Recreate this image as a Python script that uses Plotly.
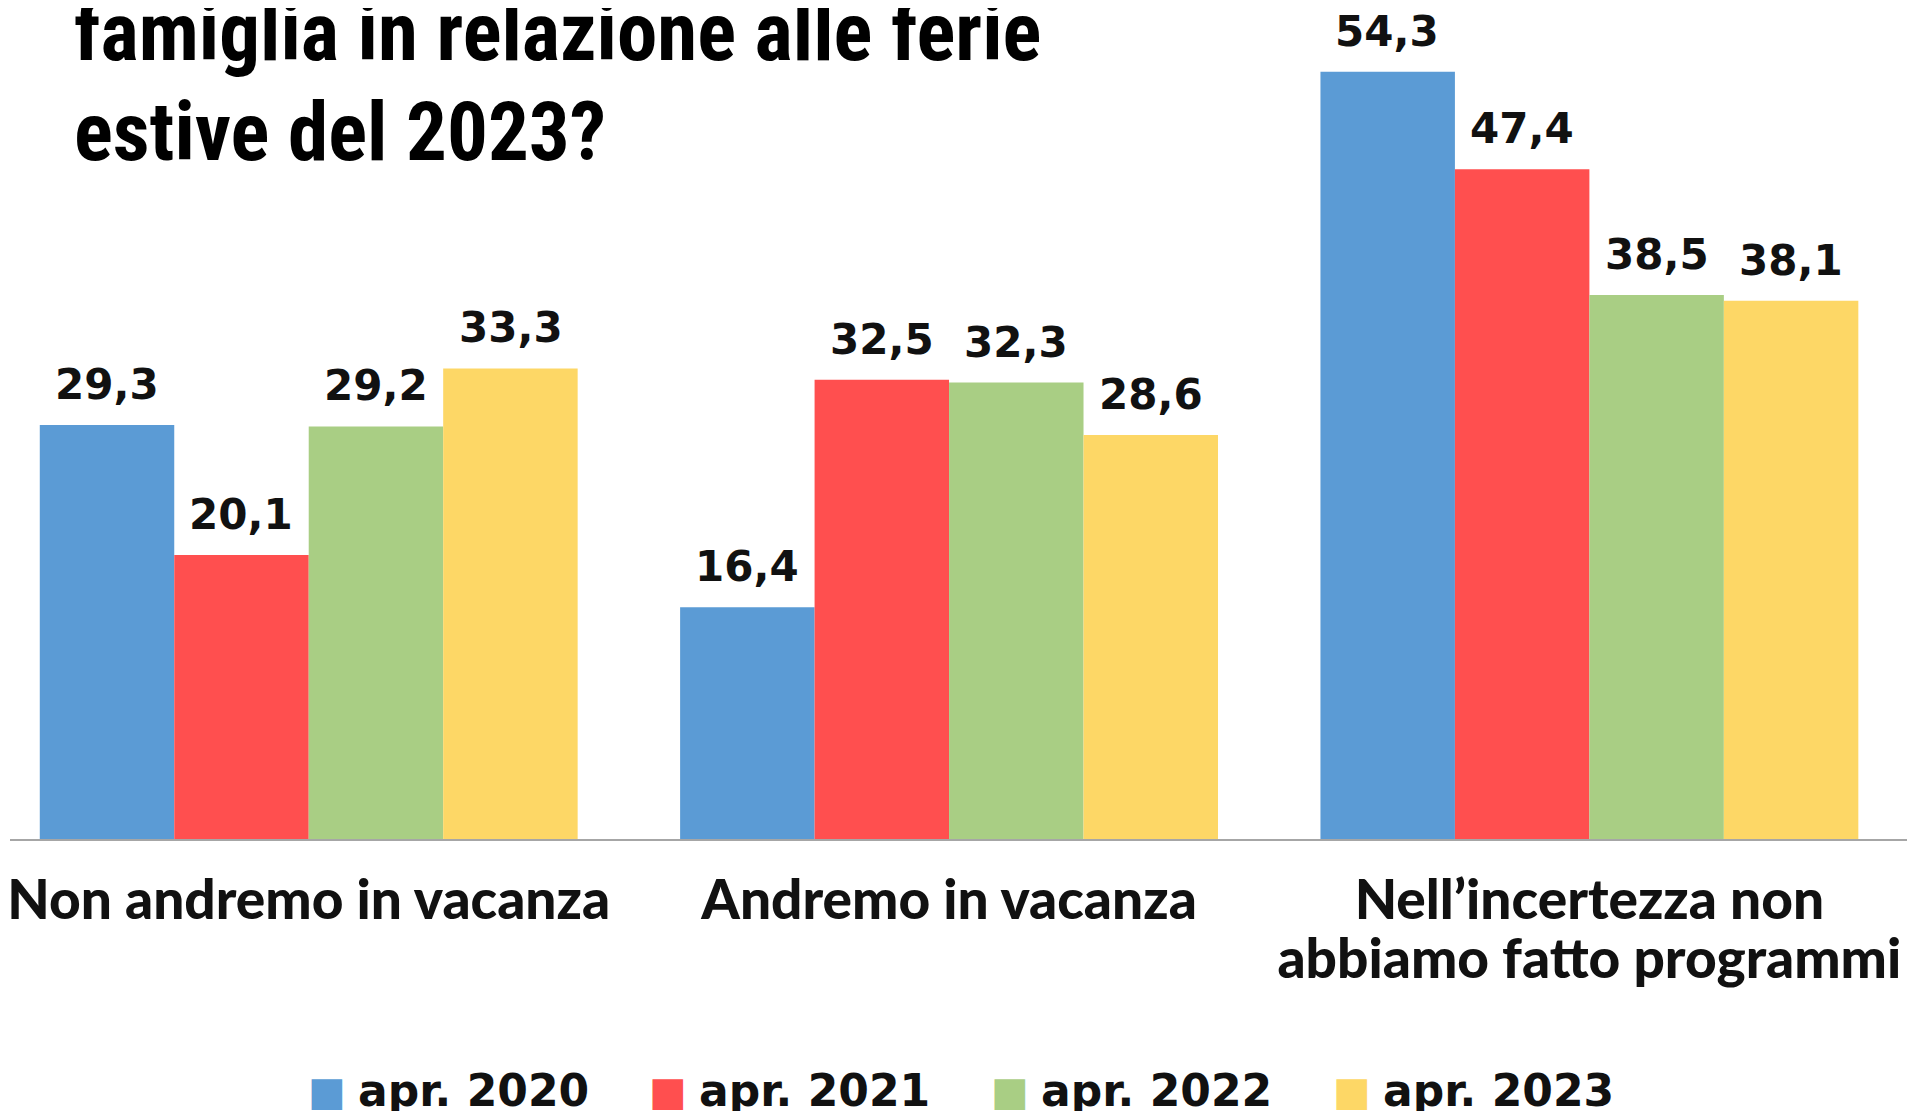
import plotly.graph_objects as go

categories = ["Non andremo in vacanza", "Andremo in vacanza",
              "Nell\u2019incertezza non<br>abbiamo fatto programmi"]
series_names = ["apr. 2020", "apr. 2021", "apr. 2022", "apr. 2023"]
values_2020 = [29.3, 16.4, 54.3]
values_2021 = [20.1, 32.5, 47.4]
values_2022 = [29.2, 32.3, 38.5]
values_2023 = [33.3, 28.6, 38.1]
colors = ["#5B9BD5", "#FF4F4F", "#A9CE84", "#FDD766"]
title_lines = ["famiglia in relazione alle ferie", "estive del 2023?"]

W, H = 1915, 1111
MT, MB = 0, 280
plot_h = H - MT - MB
X_RANGE = [-0.4665, 2.521]
BARGAP = 0.16


def py(p):
    """pixel from top of figure -> paper y"""
    return (H - MB - p) / plot_h


def fmt(v):
    return f"{v:.1f}".replace(".", ",")


fig = go.Figure()
all_vals = [values_2020, values_2021, values_2022, values_2023]
for name, vals, col in zip(series_names, all_vals, colors):
    fig.add_trace(go.Bar(
        x=categories, y=vals, name=name,
        marker=dict(color=col, line=dict(width=0)),
        showlegend=False, hoverinfo="x+y+name",
    ))

annotations = []
# value labels above bars
band_px = W / (X_RANGE[1] - X_RANGE[0])
bar_px = band_px * (1 - BARGAP) / len(series_names)
for i, vals in enumerate(all_vals):
    for cat, v in zip(categories, vals):
        annotations.append(dict(
            text=f"<b>{fmt(v)}</b>", x=cat, y=v, xref="x", yref="y",
            xanchor="center", yanchor="bottom", showarrow=False,
            xshift=(i - (len(series_names) - 1) / 2) * bar_px, yshift=14,
            font=dict(family="DejaVu Sans", size=42, color="#111111"),
        ))

# title lines (condensed bold sans)
for i, line in enumerate(title_lines):
    annotations.append(dict(
        text=f"<span style='font-stretch:condensed'><b>{line}</b></span>",
        xref="paper", yref="paper",
        x=62 / W, y=py(25 + 100 * i), xanchor="left", yanchor="middle",
        showarrow=False,
        font=dict(family="Roboto, Liberation Sans, sans-serif", size=81, color="#000000"),
    ))

# custom legend
for i, (name, col) in enumerate(zip(series_names, colors)):
    x0 = 296 + 342 * i
    annotations.append(dict(
        text="\u25A0", xref="paper", yref="paper",
        x=x0 / W, y=py(1083), xanchor="left", yanchor="middle",
        showarrow=False,
        font=dict(family="DejaVu Sans", size=40, color=col),
    ))
    annotations.append(dict(
        text=f"<b>{name}</b>", xref="paper", yref="paper",
        x=(x0 + 50) / W, y=py(1082), xanchor="left", yanchor="middle",
        showarrow=False,
        font=dict(family="DejaVu Sans", size=44, color="#111111"),
    ))

ticktext = ["<br>".join(f"<span style='font-size:55px;font-weight:900'>{part}</span>"
                        for part in c.split("<br>")) for c in categories]

fig.update_layout(
    width=W, height=H,
    margin=dict(l=0, r=0, t=MT, b=MB, pad=0),
    paper_bgcolor="white", plot_bgcolor="white",
    barmode="group", bargap=BARGAP, bargroupgap=0,
    annotations=annotations,
    xaxis=dict(
        range=X_RANGE,
        showline=True, linecolor="#A6A6A6", linewidth=2,
        showgrid=False, zeroline=False, ticks="",
        tickmode="array", tickvals=categories, ticktext=ticktext,
        ticklabelstandoff=24,
        tickfont=dict(family="Lato", size=45, color="#111111"),
    ),
    yaxis=dict(range=[0, 831 / 14.13], visible=False, showgrid=False, zeroline=False),
)

fig.write_html("out.html")
